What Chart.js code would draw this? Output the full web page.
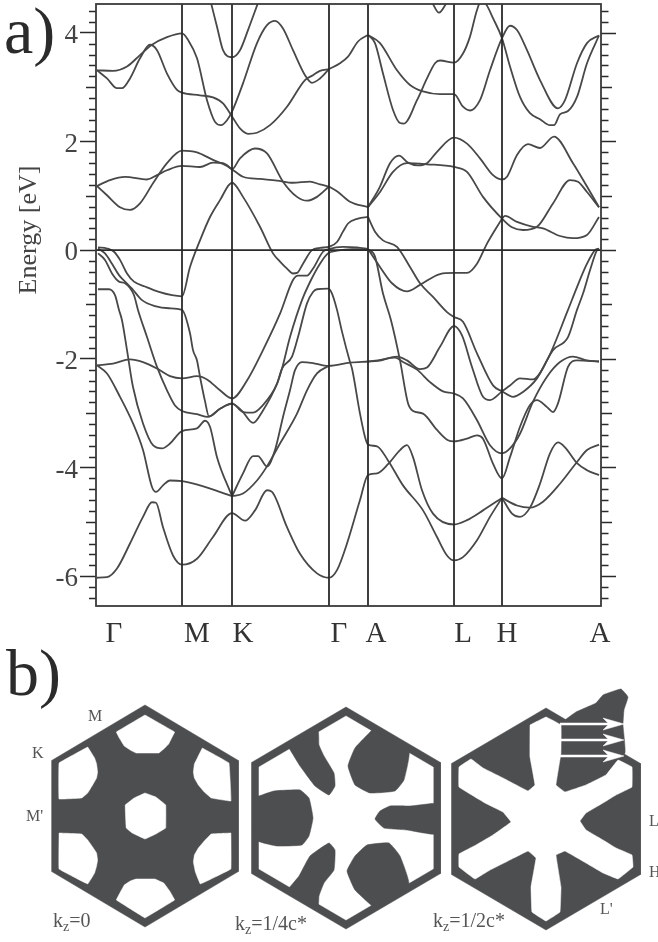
<!DOCTYPE html>
<html>
<head>
<meta charset="utf-8">
<script src="https://cdn.jsdelivr.net/npm/chart.js@4/dist/chart.umd.min.js"></script>
<style>
html, body { margin: 0; padding: 0; background: #fff; }
body { position: relative; width: 658px; height: 942px; overflow: hidden; font-family: "Liberation Serif", serif; }
canvas { position: absolute; }
.t { position: absolute; white-space: nowrap; line-height: 1; color: #555; }
.t sub { font-size: 70%; line-height: 0; vertical-align: -0.3em; }
.big { font-size: 66px; color: #2b2b2b; }
.hs { font-size: 16px; }
.kz { font-size: 20px; }
</style>
</head>
<body>
<canvas id="bandas" width="658" height="650" style="left:0;top:0"></canvas>
<canvas id="fermi0" width="210" height="260"></canvas>
<canvas id="fermi1" width="210" height="260"></canvas>
<canvas id="fermi2" width="210" height="260"></canvas>

<div class="t big" style="left:4px;top:-2px">a)</div>
<div class="t big" style="left:6px;top:640px">b)</div>
<div class="t" style="left:28px;top:230px;font-size:26px;color:#444;transform:translate(-50%,-50%) rotate(-90deg)">Energy [eV]</div>
<div class="t hs" style="left:88px;top:708px">M</div>
<div class="t hs" style="left:32px;top:745px">K</div>
<div class="t hs" style="left:26px;top:808px">M'</div>
<div class="t hs" style="left:649px;top:813px">L</div>
<div class="t hs" style="left:649px;top:864px">H</div>
<div class="t hs" style="left:600px;top:901px">L'</div>
<div class="t kz" style="left:53px;top:910px">k<sub>z</sub>=0</div>
<div class="t kz" style="left:235px;top:913px">k<sub>z</sub>=1/4c*</div>
<div class="t kz" style="left:433px;top:910px">k<sub>z</sub>=1/2c*</div>

<script>
// Pontos de simetria (k em unidades do caminho, E em eV)
const kLinhas = [85, 135, 232, 271, 357, 405]
const kRotulos = [17, 100, 146, 242, 279, 366, 410, 503]
const nomesRotulos = ['Γ', 'M', 'K', 'Γ', 'A', 'L', 'H', 'A']
const yRotulos = [4, 2, 0, -2, -4, -6]

// Bandas de conducao
const altaSup = [[0,3.31],[16,3.30],[30,3.38],[43,3.59],[55,3.78],[70,3.92],[85,3.99],[91,3.87],[100,3.53],[110,2.76],[118,2.36],[124,2.30],[130,2.39],[135,2.55],[146,3.07],[160,3.81],[170,4.14],[178,4.22],[186,4.08],[196,3.68],[208,3.22],[215,3.08],[223,3.16],[232,3.33]]
const altaInf = [[0,3.31],[10,3.16],[20,2.98],[25,2.98],[33,3.16],[43,3.53],[53,3.78],[60,3.68],[70,3.25],[80,2.95],[85,2.90],[103,2.85],[116,2.81],[126,2.70],[135,2.46],[143,2.24],[151,2.14],[160,2.16],[173,2.30],[190,2.64],[208,3.13],[216,3.22],[223,3.30],[232,3.33]]
const altaGA = [[232,3.33],[243,3.44],[251,3.56],[261,3.84],[271,3.96]]
const altaAA1 = [[271,3.96],[283,3.81],[300,3.31],[313,3.04],[326,2.92],[343,2.87],[357,2.87],[366,2.64],[373,2.57],[383,2.76],[393,3.31],[405,3.90],[413,4.13],[420,4.05],[430,3.68],[443,3.13],[461,2.61],[468,2.76],[480,3.44],[490,3.81],[502,3.95]]
const altaAA2 = [[271,3.96],[278,3.81],[286,3.25],[296,2.58],[303,2.34],[307,2.33],[320,2.76],[330,3.16],[338,3.44],[343,3.49],[357,3.45],[366,3.62],[373,3.93],[380,4.42],[385,4.62],[390,4.50],[396,4.27],[405,3.90],[413,3.38],[423,2.82],[433,2.52],[443,2.41],[453,2.30],[457,2.30],[463,2.50],[471,2.56],[480,2.82],[490,3.44],[502,3.95]]
const bolsoK = [[114,4.55],[120,4.11],[126,3.68],[135,3.55],[143,3.68],[151,4.05],[161,4.55]]
const bolsoL = [[335,4.56],[342,4.37],[350,4.56]]
const mediaSup = [[0,1.18],[13,1.29],[28,1.35],[50,1.30],[60,1.38],[70,1.47],[85,1.55],[103,1.53],[116,1.61],[126,1.60],[135,1.49],[146,1.35],[163,1.31],[180,1.28],[196,1.24],[213,1.26],[223,1.21],[232,1.17]]
const mediaInf = [[0,1.18],[10,1.01],[23,0.79],[33,0.74],[43,0.86],[56,1.23],[70,1.60],[85,1.83],[100,1.80],[116,1.66],[130,1.55],[135,1.49],[143,1.69],[158,1.87],[170,1.78],[186,1.26],[200,0.98],[210,0.91],[220,0.98],[232,1.17]]
const mediaGA = [[232,1.17],[241,1.07],[253,0.89],[271,0.79]]
const mediaAA1 = [[271,0.79],[283,1.17],[293,1.60],[302,1.74],[311,1.61],[321,1.56],[330,1.60],[340,1.81],[357,2.07],[370,1.96],[383,1.69],[396,1.38],[405,1.30],[410,1.35],[420,1.75],[431,1.95],[443,1.88],[457,2.09],[476,1.60],[490,1.17],[502,0.79]]
const mediaAA2 = [[271,0.79],[283,1.07],[296,1.44],[310,1.60],[330,1.58],[357,1.53],[370,1.44],[386,0.98],[405,0.58],[415,0.42],[426,0.37],[440,0.43],[456,0.86],[473,1.29],[481,1.26],[490,1.07],[502,0.79]]
const mediaHA = [[405,0.58],[408,0.63],[420,0.52],[436,0.43],[446,0.40],[463,0.26],[476,0.22],[490,0.28],[502,0.61]]

// Bandas de valencia
const val1 = [[1,0.05],[10,0.03],[17,-0.03],[23,-0.18],[30,-0.43],[37,-0.58],[48,-0.67],[62,-0.77],[75,-0.83],[85,-0.85],[93,-0.31],[103,0.18],[113,0.61],[123,0.92],[135,1.24],[146,0.98],[163,0.43],[176,-0.06],[183,-0.21],[190,-0.34],[196,-0.43],[200,-0.42],[206,-0.25],[215,0],[223,0.04],[233,0.07],[240,0.15],[246,0.34],[251,0.49],[261,0.58],[271,0.61]]
const val2 = [[1,0.03],[8,-0.06],[15,-0.25],[22,-0.46],[28,-0.58],[35,-0.71],[45,-0.92],[58,-1.03],[72,-1.07],[85,-1.10],[93,-1.53],[96,-1.84],[100,-2.03],[103,-2.33],[108,-2.78],[112,-3.06],[123,-2.92],[135,-2.83],[145,-2.96],[156,-3.18],[166,-2.95],[180,-2.46],[185,-2.18],[195,-1.96],[201,-1.60],[210,-0.98],[216,-0.77],[220,-0.72],[231,-0.71],[235,-0.80],[240,-1.10],[245,-1.50],[253,-2.06],[255,-2.18],[263,-3.01],[268,-3.44],[271,-3.58],[280,-3.61],[291,-3.87],[306,-4.33],[326,-4.79],[340,-5.28],[350,-5.62],[357,-5.71],[366,-5.65],[380,-5.34],[393,-4.91],[405,-4.56]]
const val3 = [[1,-0.06],[8,-0.18],[15,-0.43],[22,-0.58],[28,-0.61],[37,-0.83],[41,-1.10],[50,-1.60],[60,-2.15],[70,-2.58],[78,-2.86],[85,-2.96],[100,-3.02],[111,-3.07],[123,-2.92],[135,-2.82],[146,-2.98],[156,-2.99],[166,-2.85],[180,-2.46],[185,-2.18],[193,-1.60],[205,-0.92],[214,-0.55],[223,-0.25],[231,-0.06],[240,-0.01],[255,0.02],[271,0.02]]
const val4 = [[1,-0.72],[12,-0.72],[18,-0.83],[22,-1.10],[25,-1.29],[30,-1.84],[36,-2.52],[46,-3.19],[56,-3.59],[65,-3.65],[73,-3.56],[85,-3.33],[100,-3.28],[108,-3.14],[113,-3.25],[120,-3.81],[135,-4.53]]
const val5 = [[0,-2.12],[16,-2.09],[33,-2.01],[46,-2.06],[60,-2.18],[73,-2.32],[85,-2.36],[100,-2.32],[110,-2.38],[123,-2.58],[135,-2.73],[150,-2.40],[166,-1.84],[183,-1.17],[196,-0.55],[201,-0.47],[210,-0.47],[216,-0.34],[226,-0.03],[232,0.02],[246,0.06],[260,0.05],[271,0.02]]
const val6 = [[0,-2.12],[10,-2.27],[23,-2.70],[36,-3.19],[46,-3.68],[55,-4.36],[59,-4.45],[66,-4.33],[73,-4.24],[85,-4.25],[103,-4.33],[120,-4.43],[135,-4.53]]
const val7 = [[135,-4.53],[146,-4.11],[156,-3.79],[161,-3.79],[170,-3.98],[178,-3.68],[186,-3.07],[193,-2.58],[198,-2.21],[205,-2.06],[216,-2.08],[226,-2.12],[232,-2.13],[253,-2.07],[271,-2.05]]
const val8 = [[135,-4.53],[146,-4.48],[160,-4.24],[170,-3.98],[183,-3.56],[200,-3.01],[210,-2.58],[220,-2.27],[232,-2.13]]
const fundo = [[0,-6.03],[10,-6.02],[20,-5.86],[33,-5.40],[46,-4.91],[55,-4.64],[59,-4.65],[66,-5.10],[76,-5.62],[85,-5.79],[100,-5.68],[116,-5.28],[135,-4.84],[148,-4.98],[158,-4.79],[170,-4.42],[175,-4.45],[190,-5.10],[203,-5.59],[220,-5.95],[232,-6.03],[240,-5.89],[250,-5.40],[263,-4.60],[271,-4.14],[280,-4.11],[291,-3.94],[303,-3.68],[310,-3.59],[316,-3.81],[325,-4.42],[336,-4.85],[357,-5.05],[370,-4.97],[386,-4.79],[405,-4.56]]
const hA1 = [[405,-4.56],[415,-4.85],[423,-4.91],[433,-4.74],[443,-4.30],[453,-3.74],[461,-3.54],[468,-3.63],[480,-3.92],[490,-4.05],[502,-4.14]]
const hA2 = [[405,-4.56],[420,-4.70],[433,-4.74],[446,-4.63],[463,-4.30],[480,-3.90],[490,-3.68],[502,-3.58]]
const plano1 = [[271,-2.05],[281,-2.03],[298,-1.98],[306,-2.06],[320,-2.20],[333,-2.43],[346,-2.60],[357,-2.64],[366,-2.73],[380,-3.13],[393,-3.59],[405,-3.74],[413,-3.65],[423,-3.38],[436,-2.79],[450,-2.33],[463,-2.06],[476,-1.96],[490,-2.03],[502,-2.05]]
const plano2 = [[271,-2.05],[281,-2.04],[300,-1.96],[310,-2.03],[323,-2.19],[330,-2.16],[343,-1.78],[357,-1.40],[365,-1.57],[375,-2.15],[386,-2.70],[393,-2.76],[405,-2.60],[413,-2.49],[423,-2.36],[436,-2.38],[450,-2.03],[471,-1.10],[480,-0.68],[490,-0.25],[498,0],[502,0.03]]
const quebra = [[405,-2.60],[416,-2.70],[426,-2.61],[440,-2.36],[456,-1.84],[471,-1.60],[480,-1.10],[486,-0.80],[493,-0.37],[500,0],[502,0.03]]
const descida1 = [[271,0.02],[278,-0.12],[286,-0.80],[294,-1.29],[303,-2.03],[311,-2.82],[316,-2.96],[326,-3.01],[340,-3.31],[351,-3.50],[357,-3.52],[370,-3.47],[380,-3.41],[386,-3.47],[396,-3.93],[405,-4.20],[413,-3.81],[423,-3.25],[433,-2.85],[440,-2.76],[450,-2.89],[456,-2.98],[461,-2.82],[471,-2.15],[480,-2.03],[502,-2.05]]
const descida2 = [[271,0.02],[283,-0.31],[295,-0.61],[310,-0.76],[323,-0.64],[343,-0.44],[357,-0.42],[370,-0.42],[380,-0.25],[390,0.12],[405,0.58]]
const descida3 = [[271,0.61],[278,0.34],[286,0.18],[300,0.06],[313,-0.31],[323,-0.61],[336,-0.86],[350,-1.14],[357,-1.23],[366,-1.32],[380,-1.90],[396,-2.49],[405,-2.60]]

const bandas = [altaSup, altaInf, altaGA, altaAA1, altaAA2, bolsoK, bolsoL, mediaSup, mediaInf, mediaGA, mediaAA1, mediaAA2, mediaHA,
    val1, val2, val3, val4, val5, val6, val7, val8, fundo, hA1, hA2, plano1, plano2, quebra, descida1, descida2, descida3]

// Superficie de Fermi, coordenadas relativas ao centro da zona
const hexFora = [[0,111],[94.5,55.5],[94.5,-55.5],[0,-111],[-94.5,-55.5],[-94.5,55.5],[0,111]]
const hexDentro = [[0,102],[87,51],[87,-51],[0,-102],[-87,-51],[-87,51],[0,102]]

const furoTopo = [[0,101],[30,84],[27,78],[24,72],[19,67],[14,63],[-9,63],[-15,66],[-21,70],[-26,78],[-29,84],[0,101]]
const furoBase = [[0,-102],[30,-84],[25,-75],[19,-67],[10,-63],[-9,-63],[-15,-65],[-21,-69],[-26,-78],[-29,-84],[0,-102]]
const furoSupEsq = [[-58,69],[-87,53],[-87,17],[-64,18],[-58,23],[-53,31],[-49,38],[-48,44],[-49,52],[-51,58],[-58,69]]
const furoSupDir = [[58,68],[85,53],[87,15],[67,18],[60,24],[54,31],[50,38],[49,44],[50,52],[53,58],[58,68]]
const furoInfEsq = [[-87,-17],[-87,-53],[-58,-68],[-51,-57],[-49,-50],[-48,-44],[-49,-37],[-53,-31],[-58,-24],[-64,-18],[-87,-17]]
const furoInfDir = [[87,-17],[67,-18],[60,-25],[54,-32],[50,-39],[49,-46],[51,-56],[56,-68],[87,-53],[87,-17]]
const furoCentro = [[0,23],[11,19],[21,11],[21,-12],[11,-18],[0,-23],[-13,-17],[-19,-12],[-20,11],[-11,18],[0,23]]

const blocoEsq = [[-90,21],[-72,27],[-46,28],[-37,20],[-33,0],[-37,-18],[-44,-27],[-69,-28],[-90,-22],[-90,21]]
const dedoDir = [[90,15],[64,12],[44,12],[34,7],[29,-1],[38,-10],[61,-12],[90,-16],[90,15]]
const blocoSupDir = [[26,88],[9,70],[2,52],[9,33],[24,25],[49,27],[58,38],[63,67],[26,88]]
const blocoInfDir = [[26,-88],[9,-72],[1,-53],[9,-38],[21,-27],[43,-25],[54,-38],[63,-67],[26,-88]]
const dedoSupEsq = [[-57,70],[-46,52],[-31,32],[-17,23],[-11,32],[-12,45],[-22,62],[-27,73],[-28,87],[-57,70]]
const dedoInfEsq = [[-57,-70],[-47,-58],[-36,-38],[-17,-25],[-11,-32],[-12,-52],[-22,-65],[-27,-78],[-28,-88],[-57,-70]]

const estrela = [[-16,94],[0,102],[15,94],[15,66],[10,34],[19,27],[40,34],[60,44],[72,59],[86,52],[86,32],[70,24],[57,16],[40,6],[34,-2],[40,-11],[57,-21],[70,-29],[86,-36],[87,-48],[72,-60],[57,-54],[40,-44],[19,-32],[10,-36],[15,-68],[14,-93],[0,-102],[-14,-93],[-15,-68],[-10,-39],[-18,-32],[-40,-43],[-56,-51],[-71,-60],[-87,-48],[-87,-35],[-70,-26],[-53,-16],[-35,-3],[-43,7],[-61,16],[-87,32],[-87,52],[-75,60],[-63,51],[-43,41],[-18,28],[-11,34],[-16,62],[-16,94]]
const extensao = [[15,94],[19,99],[30,107],[50,116],[57,124],[75,130],[82,122],[78,109],[77,94],[79,66],[60,50],[40,60],[15,66],[15,94]]
const setasY = [95, 79, 63]
const setaInicio = 14
const setaFim = 78

const corBanda = '#484848'
const corEixo = '#2a2a2a'
const corEscuro = '#4d4e50'

// Marcas menores dos dois lados e moldura, tudo pela escala y
const marcasPlugin = {
    id: 'marcas',
    afterDraw(chart) {
        const { ctx, chartArea } = chart
        const escala = chart.scales.y
        ctx.save()
        ctx.strokeStyle = corEixo
        ctx.lineWidth = 1.5
        for (let i = -32; i <= 22; i++) {
            const v = i / 5
            const p = Math.round(escala.getPixelForValue(v)) + 0.5
            const par = i % 10 === 0
            const impar = i % 5 === 0
            ctx.beginPath()
            if (!par) {
                ctx.moveTo(chartArea.left - (impar ? 10 : 7), p)
                ctx.lineTo(chartArea.left, p)
            }
            ctx.moveTo(chartArea.right, p)
            ctx.lineTo(chartArea.right + (par ? 15 : impar ? 11 : 7.5), p)
            ctx.stroke()
        }
        ctx.strokeStyle = '#3a3a3a'
        ctx.lineWidth = 1.8
        ctx.strokeRect(chartArea.left, chartArea.top, chartArea.right - chartArea.left, chartArea.bottom - chartArea.top)
        ctx.restore()
    }
}

const dsBandas = bandas.map(b => ({
    data: b, showLine: true, pointRadius: 0, borderColor: corBanda, borderWidth: 1.8,
    cubicInterpolationMode: 'monotone'
}))
const dsLinhas = kLinhas.map(k => ({
    data: [[k, -6.55], [k, 4.53]], showLine: true, pointRadius: 0, borderColor: corEixo, borderWidth: 1.8
}))
const dsZero = { data: [[-1, 0], [504, 0]], showLine: true, pointRadius: 0, borderColor: corEixo, borderWidth: 1.6 }

new Chart(document.getElementById('bandas'), {
    type: 'scatter',
    data: { datasets: [...dsLinhas, dsZero, ...dsBandas] },
    options: {
        responsive: false,
        animation: false,
        devicePixelRatio: 1,
        layout: { padding: { top: 4, right: 57, left: 0, bottom: 0 } },
        plugins: { legend: { display: false }, tooltip: { enabled: false } },
        scales: {
            x: {
                type: 'linear', min: -1, max: 504,
                afterBuildTicks(s) { s.ticks = kRotulos.map(v => ({ value: v })) },
                afterFit(s) { s.height = 44 },
                grid: { display: false },
                border: { display: false },
                ticks: {
                    autoSkip: false, maxRotation: 0, padding: 3, color: '#333',
                    font: { family: 'Liberation Serif', size: 29 },
                    callback: (v, i) => nomesRotulos[i]
                }
            },
            y: {
                type: 'linear', min: -6.55, max: 4.53,
                afterBuildTicks(s) { s.ticks = yRotulos.map(v => ({ value: v })) },
                afterFit(s) { s.width = 96; s.paddingTop = 0; s.paddingBottom = 0 },
                grid: { drawOnChartArea: false, tickLength: 16, tickColor: corEixo, tickWidth: 1.5 },
                border: { display: false },
                ticks: {
                    autoSkip: false, padding: 2, labelOffset: 3, color: '#444',
                    font: { family: 'Liberation Serif', size: 27 },
                    callback: v => String(v)
                }
            }
        }
    },
    plugins: [marcasPlugin]
})

function forma(pts, cor, suave) {
    return {
        data: pts, showLine: true, pointRadius: 0, fill: 'shape', backgroundColor: cor,
        borderColor: cor, borderWidth: 0.5, tension: suave
    }
}

function panelFermi(id, centroX, centroY, limX, camadas) {
    const el = document.getElementById(id)
    el.style.left = (centroX - 105) + 'px'
    el.style.top = (centroY - 140) + 'px'
    new Chart(el, {
        type: 'scatter',
        // o primeiro dataset fica por cima, entao inverte
        data: { datasets: camadas.slice().reverse() },
        options: {
            responsive: false,
            animation: false,
            devicePixelRatio: 1,
            layout: { padding: 0 },
            plugins: { legend: { display: false }, tooltip: { enabled: false } },
            scales: {
                x: { type: 'linear', min: -limX, max: limX, display: false },
                y: { type: 'linear', min: -120, max: 140, display: false }
            }
        }
    })
}

panelFermi('fermi0', 145, 816, 106.3, [
    forma(hexFora, corEscuro, 0),
    ...[furoTopo, furoBase, furoSupEsq, furoSupDir, furoInfEsq, furoInfDir, furoCentro].map(f => forma(f, '#fff', 0.03))
])

panelFermi('fermi1', 345.8, 818.3, 105, [
    forma(hexFora, corEscuro, 0),
    forma(hexDentro, '#fff', 0),
    ...[blocoEsq, dedoDir, blocoSupDir, blocoInfDir, dedoSupEsq, dedoInfEsq].map(f => forma(f, corEscuro, 0.12))
])

const setas = []
setasY.forEach(y => {
    setas.push({ data: [[setaInicio, y], [setaFim - 8, y]], showLine: true, pointRadius: 0, borderColor: '#fff', borderWidth: 2.4 })
    setas.push(forma([[setaFim - 21, y + 6], [setaFim, y], [setaFim - 21, y - 6], [setaFim - 15, y], [setaFim - 21, y + 6]], '#fff', 0))
})

panelFermi('fermi2', 546.3, 819, 105, [
    forma(hexFora, corEscuro, 0),
    forma(extensao, corEscuro, 0.1),
    forma(estrela, '#fff', 0.04),
    ...setas
])
</script>
</body>
</html>
